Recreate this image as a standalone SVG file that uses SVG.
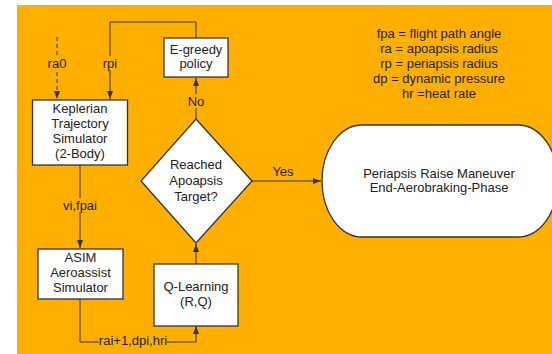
<svg xmlns="http://www.w3.org/2000/svg" width="552" height="354" viewBox="0 0 552 354">
  <defs>
    <marker id="arrow" viewBox="0 0 8 6" refX="8" refY="3" markerWidth="8" markerHeight="6" markerUnits="userSpaceOnUse" orient="auto">
      <path d="M0,0 L8,3 L0,6 Z" fill="#333"/>
    </marker>
    <style>
      .box { fill: #ffffff; stroke: #333333; stroke-width: 1.3; }
      .link { fill: none; stroke: #333333; stroke-width: 1; }
      .dash { stroke-dasharray: 4 3; }
      text { font-family: "Liberation Sans", Arial, sans-serif; font-size: 13px; fill: #222222; text-anchor: middle; }
    </style>
  </defs>

  <rect x="0" y="0" width="552" height="354" fill="#ffffff"/>
  <rect x="17" y="5" width="535" height="349" fill="#ffaf00"/>

  <!-- connectors -->
  <g id="connectors">
    <path class="link dash" d="M57,37 V99" marker-end="url(#arrow)"/>
    <path class="link" d="M196,38 V22 H110 V99" marker-end="url(#arrow)"/>
    <path class="link" d="M80,165 V248" marker-end="url(#arrow)"/>
    <path class="link" d="M80,299 V342 H196 V326" marker-end="url(#arrow)"/>
    <path class="link" d="M196,264 V244" marker-end="url(#arrow)"/>
    <path class="link" d="M196,119 V78" marker-end="url(#arrow)"/>
    <path class="link" d="M252,181 H321" marker-end="url(#arrow)"/>
    <!-- labels on connectors -->
    <rect x="48" y="56" width="18" height="14" fill="#ffaf00"/>
    <text x="57" y="67.5">ra0</text>
    <rect x="101" y="56" width="18" height="14" fill="#ffaf00"/>
    <text x="110" y="67.5">rpi</text>
    <rect x="60" y="198" width="40" height="14" fill="#ffaf00"/>
    <text x="80" y="209.5">vi,fpai</text>
    <rect x="99" y="334" width="68" height="14" fill="#ffaf00"/>
    <text x="133" y="344.5">rai+1,dpi,hri</text>
    <rect x="187" y="94" width="18" height="14" fill="#ffaf00"/>
    <text x="196" y="105.5">No</text>
    <text x="283" y="175.5">Yes</text>
  </g>

  <g id="egreedy">
    <rect class="box" x="164" y="38" width="64" height="39"/>
    <text x="196" y="53.5">E-greedy</text>
    <text x="196" y="68">policy</text>
  </g>

  <g id="kepler">
    <rect class="box" x="32.5" y="100" width="95" height="65"/>
    <text x="80" y="112.5">Keplerian</text>
    <text x="80" y="127.5">Trajectory</text>
    <text x="80" y="142.5">Simulator</text>
    <text x="80" y="158">(2-Body)</text>
  </g>

  <g id="asim">
    <rect class="box" x="38" y="249" width="85" height="50"/>
    <text x="80.5" y="261.5">ASIM</text>
    <text x="80.5" y="276.5">Aeroassist</text>
    <text x="80.5" y="291.5">Simulator</text>
  </g>

  <g id="qlearning">
    <rect class="box" x="154" y="264" width="84" height="62"/>
    <text x="196" y="290.5">Q-Learning</text>
    <text x="196" y="305.5">(R,Q)</text>
  </g>

  <g id="decision">
    <path class="box" d="M196,119 L252,181 L196,243 L141,181 Z"/>
    <text x="196" y="168.5">Reached</text>
    <text x="196" y="185">Apoapsis</text>
    <text x="196" y="200.5">Target?</text>
  </g>

  <g id="terminal">
    <rect class="box" x="322" y="125" width="236" height="112" rx="40" ry="56"/>
    <text x="439" y="177.5">Periapsis Raise Maneuver</text>
    <text x="439" y="192">End-Aerobraking-Phase</text>
  </g>

  <g id="legend">
    <text x="439" y="37.5">fpa = flight path angle</text>
    <text x="439" y="52.5">ra = apoapsis radius</text>
    <text x="439" y="67.5">rp = periapsis radius</text>
    <text x="439" y="83">dp = dynamic pressure</text>
    <text x="439" y="98">hr =heat rate</text>
  </g>
</svg>
